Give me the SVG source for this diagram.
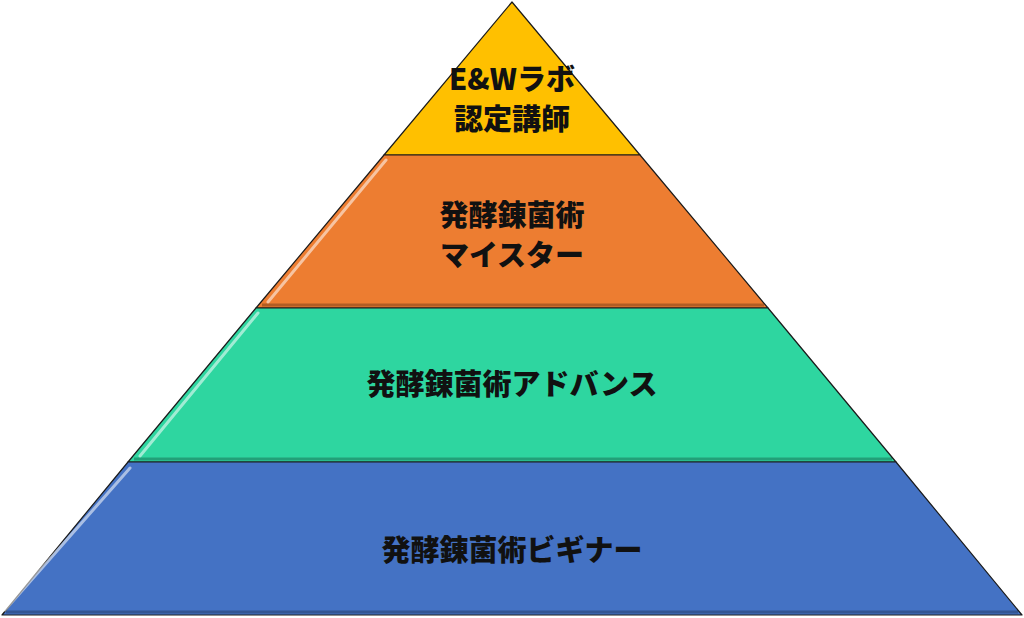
<svg xmlns="http://www.w3.org/2000/svg" width="1024" height="618" viewBox="0 0 1024 618">
<style>
.t{stroke:#1a1a1a;stroke-width:1.2;stroke-linejoin:round}
.hl{fill:none;stroke:#fff;stroke-opacity:0.55;stroke-width:3;stroke-linecap:round}
.sh{fill:none;stroke:#000;stroke-opacity:0.25;stroke-width:3}
text{font-family:"Noto Sans CJK JP","Noto Sans",sans-serif;font-weight:900;font-size:29px;fill:#111;text-anchor:middle}
</style>
<rect width="1024" height="618" fill="#fff"/>
<g id="tier1">
<polygon class="t" points="512,2 640,155 384,155" fill="#FFC000"/>
<text x="512" y="90">E&amp;Wラボ</text>
<text x="512" y="130">認定講師</text>
</g>
<g id="tier2">
<polygon class="t" points="384,155 640,155 768,308 256,308" fill="#ED7D31"/>
<line class="hl" x1="386" y1="160" x2="268" y2="302"/>
<line class="sh" x1="262" y1="305" x2="764" y2="305"/>
<text x="512" y="226">発酵錬菌術</text>
<text x="512" y="266">マイスター</text>
</g>
<g id="tier3">
<polygon class="t" points="256,308 768,308 896,462 128,462" fill="#2ED6A0"/>
<line class="hl" x1="258" y1="313" x2="140" y2="456"/>
<line class="sh" x1="134" y1="459" x2="892" y2="459"/>
<text x="512" y="395">発酵錬菌術アドバンス</text>
</g>
<g id="tier4">
<polygon class="t" points="128,462 896,462 1022,615 2,615" fill="#4472C4"/>
<line class="hl" x1="130" y1="468" x2="5" y2="610"/>
<line class="sh" x1="6" y1="612" x2="1018" y2="612"/>
<text x="512" y="561">発酵錬菌術ビギナー</text>
</g>
</svg>
